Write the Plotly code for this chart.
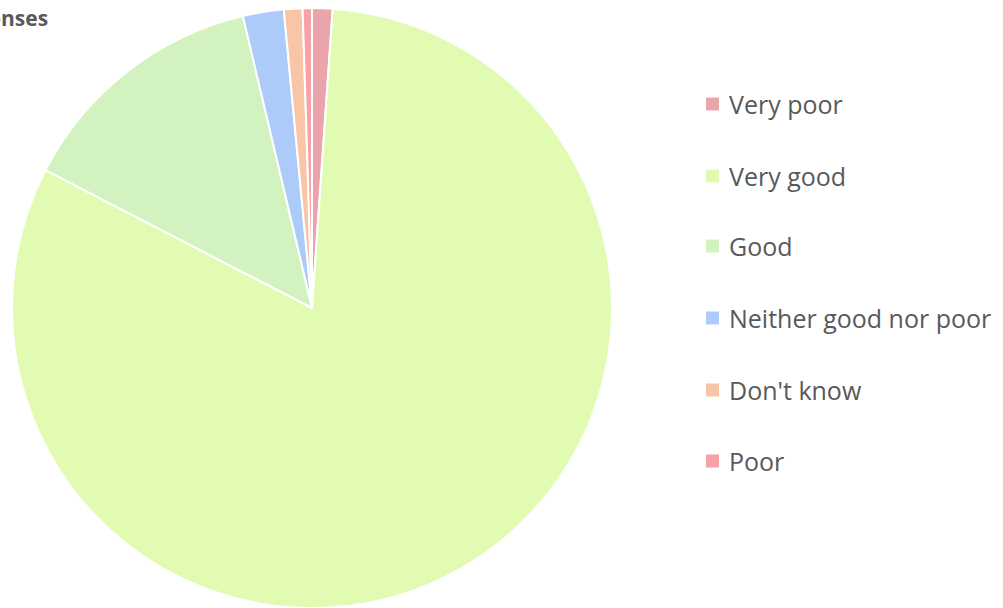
import plotly.graph_objects as go

labels = ["Very poor", "Very good", "Good", "Neither good nor poor", "Don't know", "Poor"]
values = [1.1, 81.5, 13.7, 2.2, 1.0, 0.5]
colors = ["#eaa5ac", "#e1fcb2", "#d2f2c0", "#adcbf8", "#f8c6a6", "#f8a1a6"]
title_text = "Responses"

W, H = 1003, 608
fig = go.Figure()
cx, cy, r = 312, 308, 300
fig.add_trace(go.Pie(
    labels=labels, values=values, sort=False, direction="clockwise", rotation=0,
    marker=dict(colors=colors, line=dict(color="white", width=2)),
    textinfo="none", showlegend=False,
    domain=dict(x=[(cx - r) / W, (cx + r) / W], y=[max(0, (H - cy - r) / H), (H - cy + r) / H]),
))

# legend drawn manually to reproduce the wide spacing
leg_y = [104, 176, 246, 318, 390, 461]
for lab, col, yy in zip(labels, colors, leg_y):
    fig.add_shape(type="rect", xref="paper", yref="paper",
                  x0=706 / W, x1=719 / W,
                  y0=(H - yy - 6.5) / H, y1=(H - yy + 6.5) / H,
                  fillcolor=col, line=dict(width=0))
    fig.add_annotation(text=lab, xref="paper", yref="paper", x=727 / W, y=(H - yy) / H,
                       xanchor="left", yanchor="middle", showarrow=False,
                       font=dict(family="Open Sans", size=25, color="#595959"))

fig.add_annotation(text="<b>" + title_text + "</b>", xref="paper", yref="paper",
                   x=50 / W, y=(H - 18) / H, xanchor="right", yanchor="middle",
                   showarrow=False, font=dict(family="Open Sans", size=21, color="#595959"))

fig.update_layout(width=W, height=H, margin=dict(l=0, r=0, t=0, b=0),
                  paper_bgcolor="white", plot_bgcolor="white")
fig.write_html("out.html", config={"displayModeBar": False},
               post_script="document.body.style.margin='0';document.body.style.overflow='hidden';")
